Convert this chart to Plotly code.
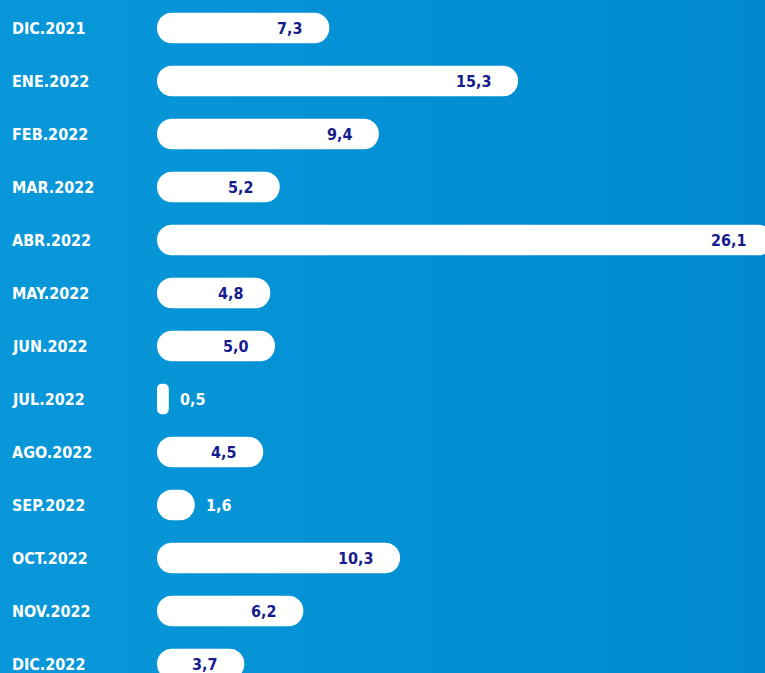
import plotly.graph_objects as go

months = ["DIC.2021", "ENE.2022", "FEB.2022", "MAR.2022", "ABR.2022", "MAY.2022", "JUN.2022",
          "JUL.2022", "AGO.2022", "SEP.2022", "OCT.2022", "NOV.2022", "DIC.2022"]
values = [7.3, 15.3, 9.4, 5.2, 26.1, 4.8, 5.0, 0.5, 4.5, 1.6, 10.3, 6.2, 3.7]
value_labels = ["7,3", "15,3", "9,4", "5,2", "26,1", "4,8", "5,0", "0,5", "4,5", "1,6", "10,3", "6,2", "3,7"]

FONT = "DejaVu Sans Condensed, DejaVu Sans, sans-serif"
NAVY = "#161c8c"
VIEW_W = 765
W, H = 800, 673  # a bit wider than the window: the longest bar runs off the edge
PX_PER_UNIT = 23.6
ZERO_PX = 157
ROW_PX = 53
FIRST_ROW_PX = 28
BAR_W = 0.58

fig = go.Figure()

# explicit base -> plotly rounds both ends of the bar
for m, v, lab in zip(months, values, value_labels):
    r = min(15, v * PX_PER_UNIT / 2)
    fig.add_trace(go.Bar(
        x=[v], base=[0], y=[m], orientation="h", width=BAR_W,
        marker={"color": "white", "cornerradius": r, "line": {"width": 0}},
        hoverinfo="skip",
    ))
    if v < 2:
        fig.add_annotation(x=v, y=m, text=lab, showarrow=False, xanchor="left", xshift=9,
                           font={"family": FONT, "size": 16, "color": "white", "weight": "bold"})
    else:
        fig.add_annotation(x=v, y=m, text=lab, showarrow=False, xanchor="right", xshift=-24,
                           font={"family": FONT, "size": 16, "color": NAVY, "weight": "bold"})

# month labels on the left edge
for m in months:
    fig.add_annotation(
        x=10 / W, xref="paper", y=m, yref="y",
        text=m, showarrow=False, xanchor="left", yanchor="middle",
        font={"family": FONT, "size": 16, "color": "white", "weight": "bold"},
    )

# soft left-to-right background gradient over the visible part
n = 30
c0, c1 = (8, 152, 217), (0, 137, 208)
for i in range(n):
    t = i / (n - 1)
    col = tuple(round(c0[k] + (c1[k] - c0[k]) * t) for k in range(3))
    fig.add_shape(
        type="rect", xref="paper", yref="paper",
        x0=i / n * VIEW_W / W, x1=((i + 1) / n + 0.002) * VIEW_W / W, y0=0, y1=1,
        fillcolor="rgb(%d,%d,%d)" % col, line={"width": 0}, layer="below",
    )

x_min = -ZERO_PX / PX_PER_UNIT
x_max = (W - ZERO_PX) / PX_PER_UNIT
y_top = -FIRST_ROW_PX / ROW_PX
y_bottom = y_top + H / ROW_PX

fig.update_layout(
    width=W,
    height=H,
    margin={"l": 0, "r": 0, "t": 0, "b": 0},
    paper_bgcolor="#0089d0",
    plot_bgcolor="rgba(0,0,0,0)",
    showlegend=False,
    barmode="overlay",
    xaxis={"range": [x_min, x_max], "visible": False, "fixedrange": True},
    yaxis={"range": [y_bottom, y_top], "visible": False, "type": "category",
           "categoryorder": "array", "categoryarray": months, "fixedrange": True},
)

fig.write_html(
    "out.html",
    config={"displayModeBar": False},
    post_script="document.body.style.margin='0';document.body.style.overflow='hidden';",
)
